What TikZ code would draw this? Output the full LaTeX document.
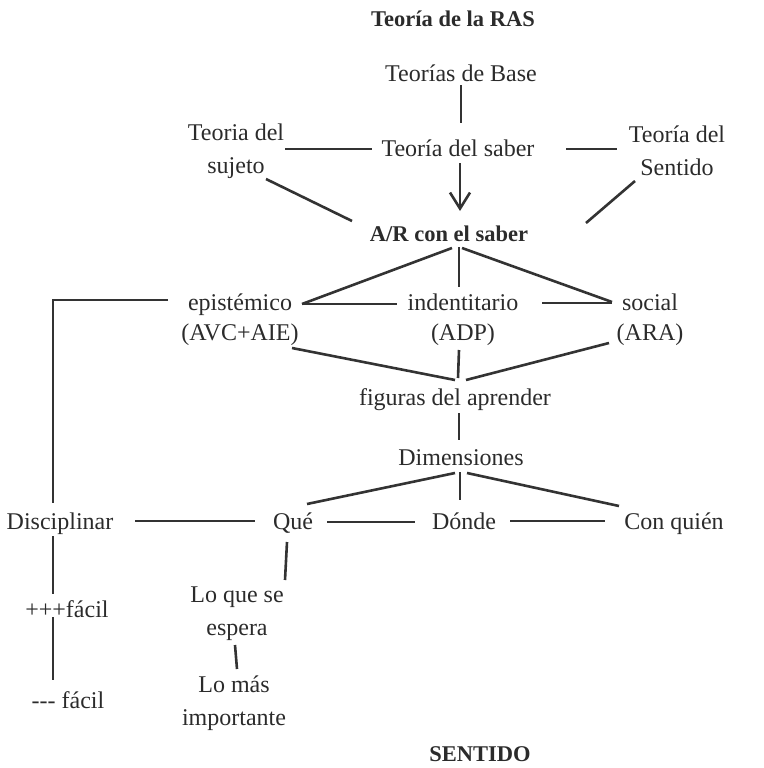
\documentclass[tikz,border=0pt]{standalone}
\usepackage{fontspec}
\setmainfont{Liberation Serif}
\newfontfamily\plainser{Liberation Serif}
\usetikzlibrary{arrows.meta}
\definecolor{ink}{HTML}{2B2B2B}
\definecolor{edge}{HTML}{333333}
\begin{document}
\begin{tikzpicture}[x=1pt,y=-1pt,
  lbl/.style={font=\plainser\fontsize{24}{33}\selectfont, text=ink, inner sep=0pt, align=center},
  lbltight/.style={lbl, font=\plainser\fontsize{24}{30}\selectfont},
  one/.style={lbl, text height=16.5pt, text depth=5pt},
  ttl/.style={font=\plainser\bfseries\fontsize{22.5}{30}\selectfont, text=ink, inner sep=0pt, text height=16pt, text depth=5pt},
  link/.style={draw=edge, line width=2.6pt},
]
\useasboundingbox (0,0) rectangle (763,768);

% nodes
\node[ttl] (title) at (453,21) {Teoría de la RAS};
\node[one] (base) at (461,76) {Teorías de Base};
\node[one] (saber) at (458,151) {Teoría del saber};
\node[lbl] (sujeto) at (236,151) {Teoria del\\sujeto};
\node[lbl] (sentido) at (677,151) {Teoría del\\Sentido};
\node[ttl] (ar) at (449,236) {A/R con el saber};
\node[lbltight] (epi) at (240,320) {epistémico\\(AVC+AIE)};
\node[lbltight] (ident) at (463,320) {indentitario\\(ADP)};
\node[lbltight] (social) at (650,320) {social\\(ARA)};
\node[one] (fig) at (455,400) {figuras del aprender};
\node[one] (dim) at (461,460) {Dimensiones};
\node[one] (disc) at (60,524) {Disciplinar};
\node[one] (que) at (293,524) {Qué};
\node[one] (donde) at (464,524) {Dónde};
\node[one] (conq) at (674,524) {Con quién};
\node[lbl] (lqs) at (237,614) {Lo que se\\espera};
\node[lbl] (lmi) at (234,703) {Lo más\\importante};
\node[one] (mas) at (67,612) {+++fácil};
\node[one] (menos) at (68,703) {--- fácil};
\node[ttl] (sentidob) at (480,756) {SENTIDO};

% connectors
\draw[link] ([shift={(0,9)}]base.center) -- ([shift={(0,-28)}]base.center |- saber.center);
\draw[link, -{Straight Barb[length=16pt,width=20pt]}] ([shift={(2,12)}]saber.center) -- ([shift={(11,-25)}]ar.center);
\draw[link] ([shift={(49,-2)}]sujeto.center) -- ([shift={(-86,-2)}]saber.center);
\draw[link] ([shift={(108,-2)}]saber.center) -- ([shift={(-60,-2)}]sentido.center);
\draw[link] ([shift={(30,28)}]sujeto.center) -- ([shift={(-97,-15)}]ar.center);
\draw[link] ([shift={(-42,30)}]sentido.center) -- ([shift={(137,-13)}]ar.center);

\draw[link] ([shift={(3,12)}]ar.center) -- ([shift={(62,-16)}]epi.center);
\draw[link] ([shift={(10,11)}]ar.center) -- ([shift={(-4,-33)}]ident.center);
\draw[link] ([shift={(13,12)}]ar.center) -- ([shift={(-38,-18)}]social.center);
\draw[link] ([shift={(62,-16)}]epi.center) -- ([shift={(-66,-16)}]ident.center);
\draw[link] ([shift={(79,-17)}]ident.center) -- ([shift={(-38,-17)}]social.center);

\draw[link] ([shift={(-72,-20)}]epi.center) -| ([shift={(-7,-21)}]disc.center);
\draw[link] ([shift={(-7,12)}]disc.center) -- ([shift={(-14,-18)}]mas.center);
\draw[link] ([shift={(-14,5)}]mas.center) -- ([shift={(-15,-23)}]menos.center);

\draw[link] ([shift={(52,28)}]epi.center) -- ([shift={(0,-20)}]fig.center);
\draw[link] ([shift={(-4,30)}]ident.center) -- ([shift={(3,-22)}]fig.center);
\draw[link] ([shift={(-41,23)}]social.center) -- ([shift={(11,-20)}]fig.center);
\draw[link] ([shift={(4,13)}]fig.center) -- ([shift={(-2,-20)}]dim.center);

\draw[link] ([shift={(-6,13)}]dim.center) -- ([shift={(14,-20)}]que.center);
\draw[link] ([shift={(-1,12)}]dim.center) -- ([shift={(-4,-24)}]donde.center);
\draw[link] ([shift={(6,13)}]dim.center) -- ([shift={(-55,-18)}]conq.center);
\draw[link] ([shift={(75,-3)}]disc.center) -- ([shift={(-38,-3)}]que.center);
\draw[link] ([shift={(34,-2)}]que.center) -- ([shift={(-49,-2)}]donde.center);
\draw[link] ([shift={(46,-3)}]donde.center) -- ([shift={(-69,-3)}]conq.center);
\draw[link] ([shift={(-6,18)}]que.center) -- ([shift={(48,-34)}]lqs.center);
\draw[link] ([shift={(-2,31)}]lqs.center) -- ([shift={(3,-34)}]lmi.center);
\end{tikzpicture}
\end{document}
